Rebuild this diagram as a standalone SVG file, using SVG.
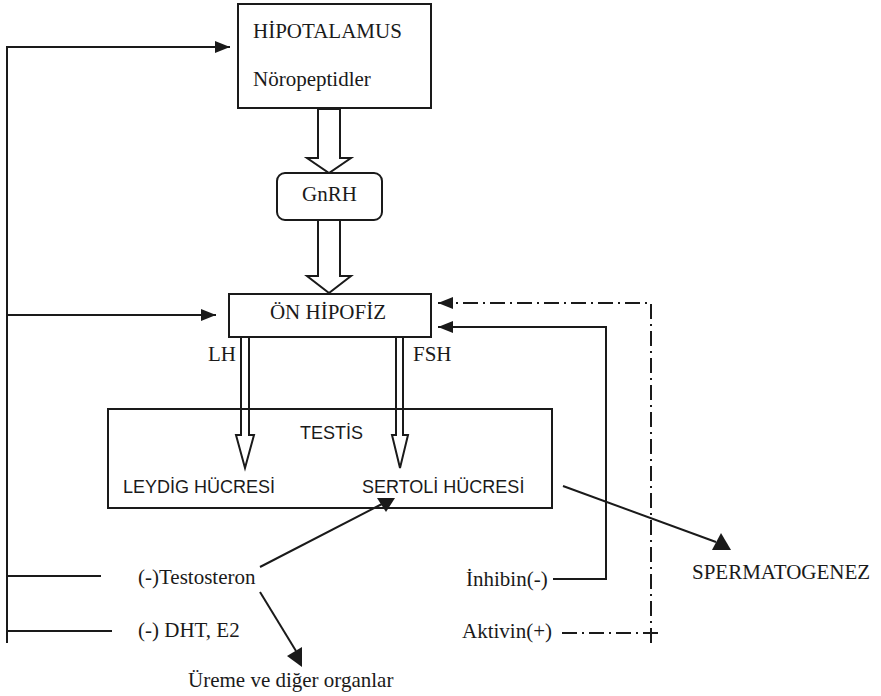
<svg xmlns="http://www.w3.org/2000/svg" width="881" height="696" viewBox="0 0 881 696">
  <defs>
    <style>
      .box { fill: #fff; stroke: #1a1a1a; stroke-width: 2; }
      .hollow { fill: #fff; stroke: #1a1a1a; stroke-width: 2; stroke-linejoin: miter; }
      .line { fill: none; stroke: #1a1a1a; stroke-width: 2; }
      .dashdot { fill: none; stroke: #1a1a1a; stroke-width: 2; stroke-dasharray: 15 5 2 5; }
      .head { fill: #1a1a1a; stroke: none; }
      .serif { font-family: "Liberation Serif", "Times New Roman", serif; font-size: 21px; fill: #1a1a1a; }
      .sans { font-family: "Liberation Sans", Arial, sans-serif; font-size: 18px; fill: #1a1a1a; }
    </style>
    <marker id="arrow" viewBox="0 0 15 12" refX="15" refY="6" markerWidth="15" markerHeight="12" markerUnits="userSpaceOnUse" orient="auto">
      <path d="M0,0 L15,6 L0,12 Z" fill="#1a1a1a"/>
    </marker>
  </defs>

  <rect width="881" height="696" fill="#fff"/>

  <!-- connectors -->
  <g id="connectors">
    <!-- feedback trunk on the left -->
    <polyline class="line" points="7,643 7,47 230,47" marker-end="url(#arrow)"/>
    <line class="line" x1="7" y1="315" x2="216" y2="315" marker-end="url(#arrow)"/>
    <line class="line" x1="7" y1="576" x2="101" y2="576"/>
    <line class="line" x1="7" y1="631" x2="112" y2="631"/>

    <!-- hollow block arrows -->
    <polygon class="hollow" points="318,109 340,109 340,158 351,158 329,173 307,158 318,158"/>
    <polygon class="hollow" points="318,220 340,220 340,276 351,276 329,293 307,276 318,276"/>
    <polygon class="hollow" points="241,337 249,337 249,435 254,435 245,468 236,435 241,435"/>
    <polygon class="hollow" points="396,337 403,337 403,435 408,435 400,468 392,435 396,435"/>

    <!-- inhibin (solid) and aktivin (dash-dot) feedback -->
    <polyline class="line" points="553,579 606,579 606,327 438,327" marker-end="url(#arrow)"/>
    <polyline class="dashdot" points="562,633 662,633"/>
    <polyline class="dashdot" points="651,643 651,303 438,303" marker-end="url(#arrow)"/>

    <!-- testosteron targets -->
    <line class="line" x1="260" y1="567" x2="382" y2="504"/>
    <polygon class="head" points="377,498 395,498 386,512"/>
    <line class="line" x1="260" y1="592" x2="296" y2="651"/>
    <polygon class="head" points="287,656 302,647 302,667"/>

    <!-- sertoli to spermatogenez -->
    <line class="line" x1="563" y1="486" x2="716" y2="542"/>
    <polygon class="head" points="721,533 712,550 731,550"/>
  </g>

  <!-- nodes -->
  <g id="hipotalamus">
    <rect class="box" x="238" y="4" width="193" height="104"/>
    <text class="serif" x="253" y="38">HİPOTALAMUS</text>
    <text class="serif" x="253" y="86">Nöropeptidler</text>
  </g>

  <g id="gnrh">
    <rect class="box" x="277" y="173" width="105" height="47" rx="8" ry="8"/>
    <text class="serif" x="329.5" y="201" text-anchor="middle">GnRH</text>
  </g>

  <g id="on-hipofiz">
    <rect class="box" x="229" y="294" width="202" height="43"/>
    <text class="serif" x="328" y="319" text-anchor="middle">ÖN HİPOFİZ</text>
    <text class="serif" x="208" y="361">LH</text>
    <text class="serif" x="413" y="361">FSH</text>
  </g>

  <g id="testis">
    <rect x="108" y="409" width="444" height="99" fill="none" stroke="#1a1a1a" stroke-width="2"/>
    <text class="sans" x="300" y="439">TESTİS</text>
    <text class="sans" x="123" y="493">LEYDİG HÜCRESİ</text>
    <text class="sans" x="362" y="493">SERTOLİ HÜCRESİ</text>
  </g>

  <g id="testosteron">
    <text class="serif" x="138" y="584">(-)Testosteron</text>
  </g>
  <g id="dht-e2">
    <text class="serif" x="138" y="637">(-) DHT, E2</text>
  </g>
  <g id="ureme">
    <text class="serif" x="188" y="687">Üreme ve diğer organlar</text>
  </g>
  <g id="inhibin">
    <text class="serif" x="466" y="586">İnhibin(-)</text>
  </g>
  <g id="aktivin">
    <text class="serif" x="462" y="638">Aktivin(+)</text>
  </g>
  <g id="spermatogenez">
    <text class="serif" x="692" y="579">SPERMATOGENEZ</text>
  </g>
</svg>
